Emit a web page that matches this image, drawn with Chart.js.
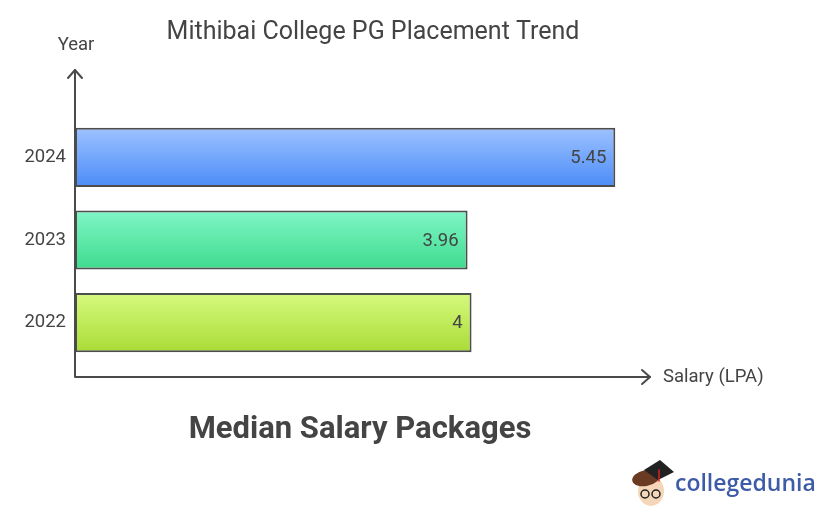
<!DOCTYPE html>
<html>
<head>
<meta charset="utf-8">
<script src="https://cdn.jsdelivr.net/npm/chart.js@4"></script>
<style>
  html, body { margin: 0; padding: 0; background: #fff; }
  #wrap { width: 822px; height: 507px; }
</style>
</head>
<body>
<div id="wrap"><canvas id="placementChart" width="822" height="507"></canvas></div>
<script>
const years = ['2024', '2023', '2022'];
const salaries = [5.45, 3.96, 4];
const xMax = 5.8;

const barColors = [
    ['#9dc2ff', '#4b8cf8'],
    ['#80f6c6', '#3edb8e'],
    ['#d6f97e', '#a9dc36']
];

const textColor = '#444444';
const axisColor = '#4a4a4a';
const FONT = 'Roboto, "Open Sans", sans-serif';
const BAR_PCT = 0.715;

function barGradient(context) {
    const chart = context.chart;
    const i = context.dataIndex;
    const yScale = chart.scales.y;
    if (!chart.chartArea || !yScale) return barColors[i][1];
    const cy = yScale.getPixelForValue(i);
    const h = (yScale.height / years.length) * BAR_PCT;
    if (!isFinite(cy) || !isFinite(h)) return barColors[i][1];
    const g = chart.ctx.createLinearGradient(0, cy - h / 2, 0, cy + h / 2);
    g.addColorStop(0, barColors[i][0]);
    g.addColorStop(1, barColors[i][1]);
    return g;
}

const decorations = {
    id: 'decorations',
    afterDatasetsDraw(chart) {
        const ctx = chart.ctx;
        const area = chart.chartArea;
        const x0 = area.left;
        const yAxisBottom = area.bottom + 13;
        const xEnd = area.right;

        ctx.save();
        // axes
        ctx.strokeStyle = axisColor;
        ctx.lineWidth = 2;
        ctx.lineCap = 'round';
        ctx.lineJoin = 'round';
        ctx.beginPath();
        ctx.moveTo(x0, 70);
        ctx.lineTo(x0, yAxisBottom);
        ctx.lineTo(xEnd, yAxisBottom);
        ctx.stroke();
        // arrow heads
        ctx.beginPath();
        ctx.moveTo(x0 - 7, 78);
        ctx.lineTo(x0, 70);
        ctx.lineTo(x0 + 7, 78);
        ctx.stroke();
        ctx.beginPath();
        ctx.moveTo(xEnd - 8, yAxisBottom - 7);
        ctx.lineTo(xEnd, yAxisBottom);
        ctx.lineTo(xEnd - 8, yAxisBottom + 7);
        ctx.stroke();

        // value labels
        ctx.fillStyle = textColor;
        ctx.font = '18.5px ' + FONT;
        ctx.textAlign = 'right';
        ctx.textBaseline = 'middle';
        chart.getDatasetMeta(0).data.forEach((bar, i) => {
            ctx.fillText(String(salaries[i]), bar.x - 9, bar.y + 1);
        });

        // title and axis labels
        ctx.textAlign = 'center';
        ctx.font = '25px ' + FONT;
        ctx.fillText('Mithibai College PG Placement Trend', 373, 33);
        ctx.font = '18.5px ' + FONT;
        ctx.fillText('Year', 76, 45);
        ctx.textAlign = 'left';
        ctx.fillText('Salary (LPA)', 663, 377);

        ctx.textAlign = 'center';
        ctx.font = 'bold 31px ' + FONT;
        ctx.fillText('Median Salary Packages', 360, 430);

        drawLogo(ctx);
        ctx.restore();
    }
};

function drawLogo(ctx) {
    ctx.save();
    // face
    ctx.fillStyle = '#f5d6b8';
    ctx.beginPath();
    ctx.ellipse(651, 491, 13, 15, 0, 0, Math.PI * 2);
    ctx.fill();
    // hair
    ctx.fillStyle = '#6b3a22';
    ctx.beginPath();
    ctx.ellipse(646, 478, 14, 8, -0.2, 0, Math.PI * 2);
    ctx.fill();
    // cap
    ctx.fillStyle = '#222';
    ctx.beginPath();
    ctx.moveTo(644, 470);
    ctx.lineTo(660, 460);
    ctx.lineTo(674, 472);
    ctx.lineTo(658, 480);
    ctx.closePath();
    ctx.fill();
    ctx.strokeStyle = '#d22';
    ctx.lineWidth = 1.5;
    ctx.beginPath();
    ctx.moveTo(659, 470);
    ctx.lineTo(659, 481);
    ctx.stroke();
    // glasses
    ctx.strokeStyle = '#222';
    ctx.lineWidth = 1.5;
    ctx.beginPath();
    ctx.arc(645, 494, 4, 0, Math.PI * 2);
    ctx.moveTo(660, 494);
    ctx.arc(656, 494, 4, 0, Math.PI * 2);
    ctx.stroke();
    // word mark
    ctx.fillStyle = '#3d5ba6';
    ctx.font = '600 23px "Open Sans", sans-serif';
    ctx.textAlign = 'left';
    ctx.textBaseline = 'middle';
    ctx.fillText('collegedunia', 675, 484);
    ctx.restore();
}

const myChart = new Chart(document.getElementById('placementChart').getContext('2d'), {
    type: 'bar',
    data: {
        labels: years,
        datasets: [{
            data: salaries,
            backgroundColor: barGradient,
            borderColor: '#4d4d4d',
            borderWidth: 2,
            borderSkipped: false,
            categoryPercentage: 1,
            barPercentage: BAR_PCT
        }]
    },
    options: {
        indexAxis: 'y',
        responsive: false,
        animation: false,
        layout: {
            padding: { left: 0, right: 172, top: 116, bottom: 143 }
        },
        plugins: {
            legend: { display: false },
            title: { display: false },
            tooltip: { enabled: false }
        },
        scales: {
            x: {
                display: false,
                min: 0,
                max: xMax
            },
            y: {
                grid: { display: false },
                border: { display: false },
                ticks: {
                    color: textColor,
                    padding: 1,
                    font: { family: FONT, size: 18.5 }
                },
                afterFit(scale) { scale.width = 75; }
            }
        }
    },
    plugins: [decorations]
});
</script>
</body>
</html>
